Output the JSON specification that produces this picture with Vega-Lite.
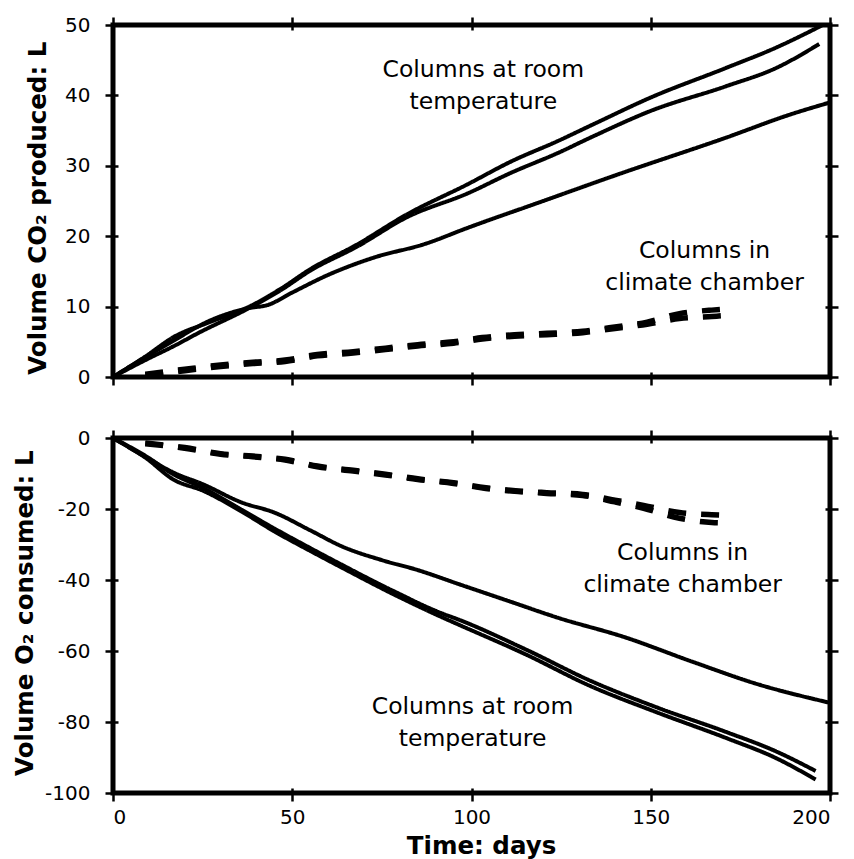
{
  "$schema": "https://vega.github.io/schema/vega-lite/v6.json",
  "background": "white",
  "padding": {"left": 10, "top": 12, "right": 10, "bottom": 4},
  "spacing": 61,
  "bounds": "flush",
  "config": {
    "view": {"stroke": "black", "strokeWidth": 5},
    "font": "DejaVu Sans",
    "axis": {
      "grid": false, "domain": false, "tickColor": "black", "tickWidth": 2.5, "tickSize": 13, "offset": -5,
      "labelFont": "DejaVu Sans", "labelFontSize": 20, "labelColor": "black", "labelPadding": 15,
      "labelExpr": "replace(datum.label, '\u2212', '-')",
      "titleFont": "DejaVu Sans", "titleFontSize": 24.5, "titleFontWeight": "bold", "titleColor": "black"
    }
  },
  "datasets": {
    "co2": [
      {"series": "A", "kind": "room", "day": 0, "v": 0},
      {"series": "A", "kind": "room", "day": 9, "v": 2.9},
      {"series": "A", "kind": "room", "day": 17, "v": 5.7},
      {"series": "A", "kind": "room", "day": 27, "v": 7.8},
      {"series": "A", "kind": "room", "day": 38, "v": 10.0},
      {"series": "A", "kind": "room", "day": 47, "v": 12.6},
      {"series": "A", "kind": "room", "day": 55, "v": 15.3},
      {"series": "A", "kind": "room", "day": 68, "v": 18.8},
      {"series": "A", "kind": "room", "day": 82, "v": 23.1},
      {"series": "A", "kind": "room", "day": 99, "v": 27.4},
      {"series": "A", "kind": "room", "day": 111, "v": 30.6},
      {"series": "A", "kind": "room", "day": 124, "v": 33.5},
      {"series": "A", "kind": "room", "day": 134, "v": 35.9},
      {"series": "A", "kind": "room", "day": 150, "v": 39.7},
      {"series": "A", "kind": "room", "day": 171, "v": 43.9},
      {"series": "A", "kind": "room", "day": 185, "v": 46.8},
      {"series": "A", "kind": "room", "day": 198, "v": 50.0},
      {"series": "B", "kind": "room", "day": 0, "v": 0},
      {"series": "B", "kind": "room", "day": 9, "v": 2.4},
      {"series": "B", "kind": "room", "day": 17, "v": 4.4},
      {"series": "B", "kind": "room", "day": 24, "v": 6.3},
      {"series": "B", "kind": "room", "day": 38, "v": 9.8},
      {"series": "B", "kind": "room", "day": 47, "v": 12.4},
      {"series": "B", "kind": "room", "day": 55, "v": 15.1},
      {"series": "B", "kind": "room", "day": 68, "v": 18.5},
      {"series": "B", "kind": "room", "day": 82, "v": 22.7},
      {"series": "B", "kind": "room", "day": 99, "v": 26.1},
      {"series": "B", "kind": "room", "day": 111, "v": 29.0},
      {"series": "B", "kind": "room", "day": 124, "v": 31.8},
      {"series": "B", "kind": "room", "day": 134, "v": 34.2},
      {"series": "B", "kind": "room", "day": 150, "v": 37.8},
      {"series": "B", "kind": "room", "day": 171, "v": 41.3},
      {"series": "B", "kind": "room", "day": 185, "v": 43.9},
      {"series": "B", "kind": "room", "day": 197, "v": 47.3},
      {"series": "C", "kind": "room", "day": 0, "v": 0},
      {"series": "C", "kind": "room", "day": 9, "v": 2.8},
      {"series": "C", "kind": "room", "day": 17, "v": 5.2},
      {"series": "C", "kind": "room", "day": 27, "v": 8.0},
      {"series": "C", "kind": "room", "day": 38, "v": 9.8},
      {"series": "C", "kind": "room", "day": 43, "v": 10.2},
      {"series": "C", "kind": "room", "day": 50, "v": 12.0},
      {"series": "C", "kind": "room", "day": 60, "v": 14.5},
      {"series": "C", "kind": "room", "day": 73, "v": 17.0},
      {"series": "C", "kind": "room", "day": 87, "v": 18.9},
      {"series": "C", "kind": "room", "day": 99, "v": 21.2},
      {"series": "C", "kind": "room", "day": 120, "v": 25.0},
      {"series": "C", "kind": "room", "day": 141, "v": 28.8},
      {"series": "C", "kind": "room", "day": 171, "v": 34.0},
      {"series": "C", "kind": "room", "day": 189, "v": 37.3},
      {"series": "C", "kind": "room", "day": 200, "v": 39.0},
      {"series": "D1", "kind": "chamber", "day": 9, "v": 0.4},
      {"series": "D1", "kind": "chamber", "day": 20, "v": 1.1},
      {"series": "D1", "kind": "chamber", "day": 30, "v": 1.7},
      {"series": "D1", "kind": "chamber", "day": 39, "v": 2.1},
      {"series": "D1", "kind": "chamber", "day": 48, "v": 2.4},
      {"series": "D1", "kind": "chamber", "day": 57, "v": 3.2},
      {"series": "D1", "kind": "chamber", "day": 67, "v": 3.6},
      {"series": "D1", "kind": "chamber", "day": 76, "v": 4.1},
      {"series": "D1", "kind": "chamber", "day": 85, "v": 4.6},
      {"series": "D1", "kind": "chamber", "day": 95, "v": 5.0},
      {"series": "D1", "kind": "chamber", "day": 103, "v": 5.6},
      {"series": "D1", "kind": "chamber", "day": 112, "v": 6.0},
      {"series": "D1", "kind": "chamber", "day": 121, "v": 6.2},
      {"series": "D1", "kind": "chamber", "day": 131, "v": 6.5},
      {"series": "D1", "kind": "chamber", "day": 140, "v": 7.1},
      {"series": "D1", "kind": "chamber", "day": 149, "v": 7.8},
      {"series": "D1", "kind": "chamber", "day": 158, "v": 9.0},
      {"series": "D1", "kind": "chamber", "day": 167, "v": 9.5},
      {"series": "D1", "kind": "chamber", "day": 170, "v": 9.6},
      {"series": "D2", "kind": "chamber", "day": 9, "v": 0.3},
      {"series": "D2", "kind": "chamber", "day": 20, "v": 0.9},
      {"series": "D2", "kind": "chamber", "day": 30, "v": 1.5},
      {"series": "D2", "kind": "chamber", "day": 39, "v": 1.9},
      {"series": "D2", "kind": "chamber", "day": 48, "v": 2.2},
      {"series": "D2", "kind": "chamber", "day": 57, "v": 3.0},
      {"series": "D2", "kind": "chamber", "day": 67, "v": 3.4},
      {"series": "D2", "kind": "chamber", "day": 76, "v": 3.9},
      {"series": "D2", "kind": "chamber", "day": 85, "v": 4.4},
      {"series": "D2", "kind": "chamber", "day": 95, "v": 4.8},
      {"series": "D2", "kind": "chamber", "day": 103, "v": 5.4},
      {"series": "D2", "kind": "chamber", "day": 112, "v": 5.8},
      {"series": "D2", "kind": "chamber", "day": 121, "v": 6.0},
      {"series": "D2", "kind": "chamber", "day": 131, "v": 6.3},
      {"series": "D2", "kind": "chamber", "day": 140, "v": 6.9},
      {"series": "D2", "kind": "chamber", "day": 149, "v": 7.5},
      {"series": "D2", "kind": "chamber", "day": 158, "v": 8.3},
      {"series": "D2", "kind": "chamber", "day": 167, "v": 8.6},
      {"series": "D2", "kind": "chamber", "day": 170, "v": 8.7}
    ],
    "o2": [
      {"series": "E", "kind": "room", "day": 0, "v": 0},
      {"series": "E", "kind": "room", "day": 9, "v": -5.3},
      {"series": "E", "kind": "room", "day": 17, "v": -9.8},
      {"series": "E", "kind": "room", "day": 25, "v": -13.0},
      {"series": "E", "kind": "room", "day": 36, "v": -18.2},
      {"series": "E", "kind": "room", "day": 45, "v": -21.0},
      {"series": "E", "kind": "room", "day": 55, "v": -26.0},
      {"series": "E", "kind": "room", "day": 64, "v": -30.6},
      {"series": "E", "kind": "room", "day": 75, "v": -34.4},
      {"series": "E", "kind": "room", "day": 85, "v": -37.2},
      {"series": "E", "kind": "room", "day": 96, "v": -41.0},
      {"series": "E", "kind": "room", "day": 110, "v": -45.8},
      {"series": "E", "kind": "room", "day": 124, "v": -50.6},
      {"series": "E", "kind": "room", "day": 143, "v": -56.2},
      {"series": "E", "kind": "room", "day": 161, "v": -62.8},
      {"series": "E", "kind": "room", "day": 180, "v": -69.4},
      {"series": "E", "kind": "room", "day": 200, "v": -74.6},
      {"series": "F", "kind": "room", "day": 0, "v": 0},
      {"series": "F", "kind": "room", "day": 9, "v": -5.0},
      {"series": "F", "kind": "room", "day": 17, "v": -10.3},
      {"series": "F", "kind": "room", "day": 25, "v": -14.0},
      {"series": "F", "kind": "room", "day": 36, "v": -20.3},
      {"series": "F", "kind": "room", "day": 45, "v": -25.5},
      {"series": "F", "kind": "room", "day": 55, "v": -31.0},
      {"series": "F", "kind": "room", "day": 64, "v": -35.8},
      {"series": "F", "kind": "room", "day": 78, "v": -43.0},
      {"series": "F", "kind": "room", "day": 92, "v": -49.5},
      {"series": "F", "kind": "room", "day": 96, "v": -51.0},
      {"series": "F", "kind": "room", "day": 115, "v": -59.5},
      {"series": "F", "kind": "room", "day": 133, "v": -68.3},
      {"series": "F", "kind": "room", "day": 152, "v": -76.0},
      {"series": "F", "kind": "room", "day": 171, "v": -82.8},
      {"series": "F", "kind": "room", "day": 185, "v": -88.3},
      {"series": "F", "kind": "room", "day": 196, "v": -93.8},
      {"series": "G", "kind": "room", "day": 0, "v": 0},
      {"series": "G", "kind": "room", "day": 9, "v": -5.5},
      {"series": "G", "kind": "room", "day": 17, "v": -11.8},
      {"series": "G", "kind": "room", "day": 25, "v": -14.8},
      {"series": "G", "kind": "room", "day": 36, "v": -20.8},
      {"series": "G", "kind": "room", "day": 45, "v": -26.3},
      {"series": "G", "kind": "room", "day": 55, "v": -31.8},
      {"series": "G", "kind": "room", "day": 64, "v": -36.6},
      {"series": "G", "kind": "room", "day": 78, "v": -43.9},
      {"series": "G", "kind": "room", "day": 92, "v": -50.6},
      {"series": "G", "kind": "room", "day": 96, "v": -52.4},
      {"series": "G", "kind": "room", "day": 115, "v": -60.9},
      {"series": "G", "kind": "room", "day": 133, "v": -69.8},
      {"series": "G", "kind": "room", "day": 152, "v": -77.4},
      {"series": "G", "kind": "room", "day": 171, "v": -84.5},
      {"series": "G", "kind": "room", "day": 185, "v": -90.2},
      {"series": "G", "kind": "room", "day": 196, "v": -96.2},
      {"series": "D3", "kind": "chamber", "day": 9, "v": -1.4},
      {"series": "D3", "kind": "chamber", "day": 20, "v": -2.7},
      {"series": "D3", "kind": "chamber", "day": 30, "v": -4.4},
      {"series": "D3", "kind": "chamber", "day": 39, "v": -5.1},
      {"series": "D3", "kind": "chamber", "day": 48, "v": -6.0},
      {"series": "D3", "kind": "chamber", "day": 57, "v": -7.9},
      {"series": "D3", "kind": "chamber", "day": 67, "v": -9.1},
      {"series": "D3", "kind": "chamber", "day": 76, "v": -10.2},
      {"series": "D3", "kind": "chamber", "day": 85, "v": -11.5},
      {"series": "D3", "kind": "chamber", "day": 95, "v": -12.6},
      {"series": "D3", "kind": "chamber", "day": 104, "v": -14.0},
      {"series": "D3", "kind": "chamber", "day": 113, "v": -14.9},
      {"series": "D3", "kind": "chamber", "day": 121, "v": -15.4},
      {"series": "D3", "kind": "chamber", "day": 131, "v": -15.9},
      {"series": "D3", "kind": "chamber", "day": 140, "v": -17.5},
      {"series": "D3", "kind": "chamber", "day": 148, "v": -19.0},
      {"series": "D3", "kind": "chamber", "day": 158, "v": -21.0},
      {"series": "D3", "kind": "chamber", "day": 167, "v": -21.6},
      {"series": "D3", "kind": "chamber", "day": 170, "v": -21.7},
      {"series": "D4", "kind": "chamber", "day": 9, "v": -1.6},
      {"series": "D4", "kind": "chamber", "day": 20, "v": -2.9},
      {"series": "D4", "kind": "chamber", "day": 30, "v": -4.6},
      {"series": "D4", "kind": "chamber", "day": 39, "v": -5.3},
      {"series": "D4", "kind": "chamber", "day": 48, "v": -6.2},
      {"series": "D4", "kind": "chamber", "day": 57, "v": -8.1},
      {"series": "D4", "kind": "chamber", "day": 67, "v": -9.3},
      {"series": "D4", "kind": "chamber", "day": 76, "v": -10.4},
      {"series": "D4", "kind": "chamber", "day": 85, "v": -11.7},
      {"series": "D4", "kind": "chamber", "day": 95, "v": -12.8},
      {"series": "D4", "kind": "chamber", "day": 104, "v": -14.2},
      {"series": "D4", "kind": "chamber", "day": 113, "v": -15.1},
      {"series": "D4", "kind": "chamber", "day": 121, "v": -15.6},
      {"series": "D4", "kind": "chamber", "day": 131, "v": -16.2},
      {"series": "D4", "kind": "chamber", "day": 140, "v": -18.0},
      {"series": "D4", "kind": "chamber", "day": 148, "v": -19.8},
      {"series": "D4", "kind": "chamber", "day": 158, "v": -22.6},
      {"series": "D4", "kind": "chamber", "day": 167, "v": -23.8},
      {"series": "D4", "kind": "chamber", "day": 170, "v": -23.9}
    ],
    "co2_labels": [
      {"day": 103.3, "v": 43.6, "label": "Columns at room\ntemperature"},
      {"day": 165, "v": 17.9, "label": "Columns in\nclimate chamber"}
    ],
    "o2_labels": [
      {"day": 100.3, "v": -75.8, "label": "Columns at room\ntemperature"},
      {"day": 158.9, "v": -32.4, "label": "Columns in\nclimate chamber"}
    ]
  },
  "vconcat": [
    {
      "width": 717,
      "height": 352,
      "resolve": {"axis": {"x": "independent", "y": "independent"}},
      "layer": [
        {
          "data": {"name": "co2"},
          "mark": {"type": "line", "color": "black", "interpolate": "monotone", "strokeCap": "butt", "strokeJoin": "round"},
          "encoding": {
            "x": {"field": "day", "type": "quantitative", "scale": {"domain": [0, 200], "nice": false, "zero": false},
                  "axis": {"orient": "bottom", "values": [0, 50, 100, 150, 200], "labels": false, "title": null}},
            "y": {"field": "v", "type": "quantitative", "scale": {"domain": [0, 50], "nice": false},
                  "axis": {"orient": "left", "values": [0, 10, 20, 30, 40, 50], "title": "Volume CO₂ produced: L",
                           "titleAngle": 270, "titleBaseline": "alphabetic", "titleAlign": "center", "titleX": -72.8, "titleY": 182.7}},
            "detail": {"field": "series", "type": "nominal"},
            "strokeDash": {"field": "kind", "type": "nominal", "scale": {"domain": ["room", "chamber"], "range": [[1, 0], [18, 15]]}, "legend": null},
            "strokeWidth": {"field": "kind", "type": "nominal", "scale": {"domain": ["room", "chamber"], "range": [4, 5.5]}, "legend": null}
          }
        },
        {
          "data": {"name": "co2_labels"},
          "mark": {"type": "text", "fontSize": 23.5, "lineBreak": "\n", "lineHeight": 32, "baseline": "middle", "align": "center", "color": "black", "font": "DejaVu Sans"},
          "encoding": {
            "x": {"field": "day", "type": "quantitative", "scale": {"domain": [0, 200], "nice": false, "zero": false},
                  "axis": {"orient": "top", "values": [0, 50, 100, 150, 200], "labels": false, "title": null}},
            "y": {"field": "v", "type": "quantitative", "scale": {"domain": [0, 50], "nice": false},
                  "axis": {"orient": "right", "values": [0, 10, 20, 30, 40, 50], "labels": false, "title": null}},
            "text": {"field": "label", "type": "nominal"}
          }
        }
      ]
    },
    {
      "width": 717,
      "height": 355,
      "resolve": {"axis": {"x": "independent", "y": "independent"}},
      "layer": [
        {
          "data": {"name": "o2"},
          "mark": {"type": "line", "color": "black", "interpolate": "monotone", "strokeCap": "butt", "strokeJoin": "round"},
          "encoding": {
            "x": {"field": "day", "type": "quantitative", "scale": {"domain": [0, 200], "nice": false, "zero": false},
                  "axis": {"orient": "bottom", "values": [0, 50, 100, 150, 200], "labelPadding": 6, "title": "Time: days",
                           "titleBaseline": "alphabetic", "titleAlign": "center", "titleX": 368, "titleY": 65}},
            "y": {"field": "v", "type": "quantitative", "scale": {"domain": [-100, 0], "nice": false},
                  "axis": {"orient": "left", "values": [-100, -80, -60, -40, -20, 0], "title": "Volume O₂ consumed: L",
                           "titleAngle": 270, "titleBaseline": "alphabetic", "titleAlign": "center", "titleX": -85.5, "titleY": 174.7}},
            "detail": {"field": "series", "type": "nominal"},
            "strokeDash": {"field": "kind", "type": "nominal", "scale": {"domain": ["room", "chamber"], "range": [[1, 0], [18, 15]]}, "legend": null},
            "strokeWidth": {"field": "kind", "type": "nominal", "scale": {"domain": ["room", "chamber"], "range": [4, 5.5]}, "legend": null}
          }
        },
        {
          "data": {"name": "o2_labels"},
          "mark": {"type": "text", "fontSize": 23.5, "lineBreak": "\n", "lineHeight": 32, "baseline": "middle", "align": "center", "color": "black", "font": "DejaVu Sans"},
          "encoding": {
            "x": {"field": "day", "type": "quantitative", "scale": {"domain": [0, 200], "nice": false, "zero": false},
                  "axis": {"orient": "top", "values": [0, 50, 100, 150, 200], "labels": false, "title": null}},
            "y": {"field": "v", "type": "quantitative", "scale": {"domain": [-100, 0], "nice": false},
                  "axis": {"orient": "right", "values": [-100, -80, -60, -40, -20, 0], "labels": false, "title": null}},
            "text": {"field": "label", "type": "nominal"}
          }
        }
      ]
    }
  ]
}
